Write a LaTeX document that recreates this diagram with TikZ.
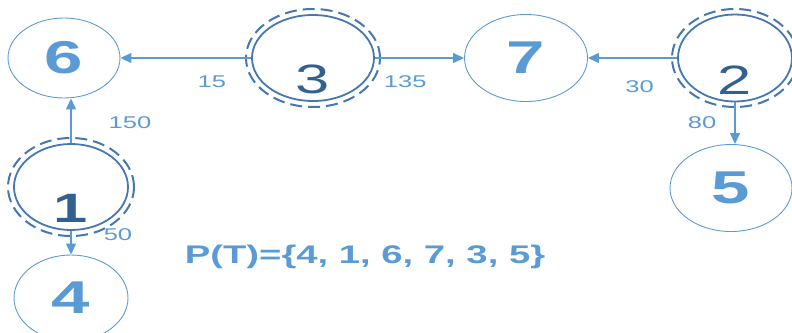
\documentclass[tikz,border=0pt]{standalone}
\usepackage{fontspec}
\setmainfont{Liberation Sans}
\usetikzlibrary{arrows.meta,shapes.geometric}
\definecolor{lblue}{HTML}{5B9BD5}
\definecolor{rblue}{HTML}{4677B0}
\definecolor{dblue}{HTML}{33618F}
\newcommand{\wider}[1]{\scalebox{1.5}[1]{#1}}

\begin{document}
\begin{tikzpicture}[x=1pt,y=-1pt,>={Triangle[length=11pt,width=10pt]},
semithick]
\tikzstyle{city}=[ellipse,draw=lblue,line width=0.9pt,inner sep=0pt,text=lblue,
  font=\fontsize{46}{46}\selectfont\bfseries]
\tikzstyle{done}=[ellipse,draw=rblue,line width=1.8pt,inner sep=0pt]
\tikzstyle{ring}=[draw=rblue,line width=2pt,dash pattern=on 12pt off 6pt]
\tikzstyle{cost}=[text=lblue,font=\fontsize{17}{17}\selectfont]
\tikzstyle{donelabel}=[text=dblue,font=\fontsize{41}{41}\selectfont]
\useasboundingbox (0,0) rectangle (792,332);
\clip (0,0) rectangle (792,332);
\node[city,minimum width=112pt,minimum height=80pt] (6) at (64,58) {\wider{6}};
\node[done,minimum width=122pt,minimum height=86pt,
  label={[donelabel,yshift=-21pt]center:\wider{3}}] (3) [right of=6,node distance=249pt] {};
\node[city,minimum width=123pt,minimum height=87pt] (7) [right of=3,node distance=213pt] {\wider{7}};
\node[done,minimum width=114pt,minimum height=87pt,
  label={[donelabel,yshift=-22pt]center:\wider{2}}] (2) [right of=7,node distance=209pt] {};
\node[city,minimum width=122pt,minimum height=87pt] (5) [below of=2,xshift=-4pt,node distance=130pt] {\wider{5}};
\node[done,minimum width=114pt,minimum height=86pt,
  label={[donelabel,font=\fontsize{41}{41}\selectfont\bfseries,yshift=-21pt]center:\wider{1}}]
  (1) [below of=6,xshift=7pt,node distance=129pt] {};
\node[city,minimum width=114pt,minimum height=86pt] (4) [below of=1,node distance=111pt] {\wider{4}};
\node[text=lblue,font=\fontsize{25.5}{25.5}\selectfont\bfseries] (pt) at (365,257)
  {\wider{P(T)=\{4, 1, 6, 7, 3, 5\}}};
\foreach \n/\rx/\ry in {3/67/49,2/63/49,1/63/49}
  \draw[ring] (\n.center) ellipse [x radius=\rx pt,y radius=\ry pt];
\begin{scope}[->,lblue,line width=1.4pt]
\path (3) edge node[cost,pos=0.3,yshift=-24pt]{\wider{15}} (6)
          edge node[cost,pos=0.34,yshift=-24pt]{\wider{135}} (7)
      (2) edge node[cost,pos=0.42,yshift=-29pt]{\wider{30}} (7)
          edge node[cost,pos=0.49,xshift=-33pt]{\wider{80}} (2 |- 5.north)
      (1) edge node[cost,pos=0.45,xshift=59pt]{\wider{150}} (1 |- 6.south)
          edge node[cost,pos=0.16,xshift=47pt]{\wider{50}} (4);
\end{scope}
\end{tikzpicture}
\end{document}
